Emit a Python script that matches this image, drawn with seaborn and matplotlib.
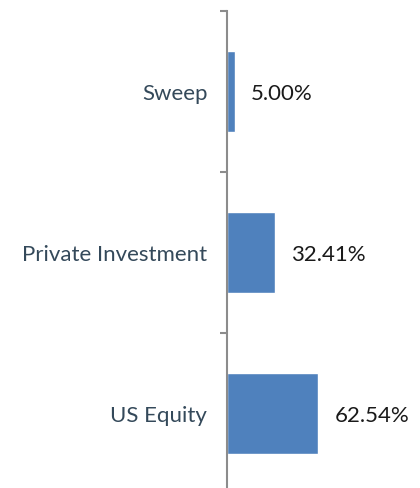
import matplotlib
matplotlib.use("Agg")
import matplotlib.pyplot as plt
import seaborn as sns
import pandas as pd
from matplotlib.ticker import FixedLocator, NullFormatter

categories = ["Sweep", "Private Investment", "US Equity"]
values = [5.00, 32.41, 62.54]
value_labels = ["5.00%", "32.41%", "62.54%"]

sns.set_style("white")
plt.rcParams['font.family'] = ['Lato', 'DejaVu Sans']

df = pd.DataFrame({"category": categories, "value": values})

fig = plt.figure(figsize=(4.2, 4.89), dpi=100)
ax = fig.add_axes([227.5 / 420, 1 - 495 / 489, 189 / 420, 483 / 489])

sns.barplot(data=df, y="category", x="value", order=categories,
            color="#4f81bd", saturation=1, width=0.5, orient="h", ax=ax)

ax.set_xlim(0, 130)
ax.set_ylim(2.5, -0.5)
ax.set_xlabel("")
ax.set_ylabel("")
ax.set_xticks([])

for s in ["top", "right", "bottom"]:
    ax.spines[s].set_visible(False)
ax.spines["left"].set_color("#8c8c8c")
ax.spines["left"].set_linewidth(1.5)

ax.yaxis.set_major_locator(FixedLocator([-0.5, 0.5, 1.5, 2.5]))
ax.yaxis.set_major_formatter(NullFormatter())
ax.yaxis.set_minor_locator(FixedLocator([0, 1, 2]))
ax.set_yticklabels(categories, minor=True)
ax.tick_params(axis="y", which="major", direction="out", length=5, width=1.5,
               color="#8c8c8c", left=True)
ax.tick_params(axis="y", which="minor", length=0, pad=14.5, labelsize=16,
               labelcolor="#34495a")
for t in ax.yaxis.get_minorticklabels():
    t.set_verticalalignment("center_baseline")

for i, (v, lab) in enumerate(zip(values, value_labels)):
    ax.annotate(lab, xy=(v, i), xytext=(16, 0), textcoords="offset pixels",
                ha="left", va="center_baseline", fontsize=16, color="#1a1a1a")

fig.savefig("out.png", dpi=100)
